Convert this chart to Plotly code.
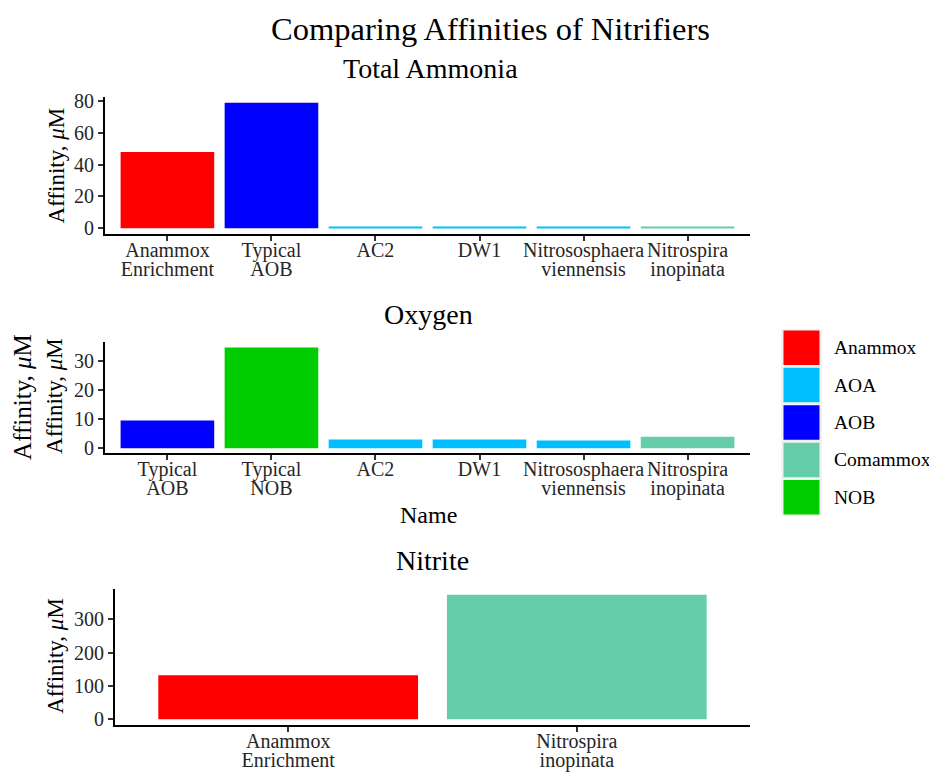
import plotly.graph_objects as go

# ---- data -------------------------------------------------------------
ammonia_names = ["Anammox<br>Enrichment", "Typical<br>AOB", "AC2", "DW1",
                 "Nitrososphaera<br>viennensis", "Nitrospira<br>inopinata"]
ammonia_groups = ["Anammox", "AOB", "AOA", "AOA", "AOA", "Comammox"]
ammonia_values = [48, 79, 0.4, 1.1, 1.1, 0.9]

oxygen_names = ["Typical<br>AOB", "Typical<br>NOB", "AC2", "DW1",
                "Nitrososphaera<br>viennensis", "Nitrospira<br>inopinata"]
oxygen_groups = ["AOB", "NOB", "AOA", "AOA", "AOA", "Comammox"]
oxygen_values = [9.5, 34.6, 3.0, 3.0, 2.7, 4.0]

nitrite_names = ["Anammox<br>Enrichment", "Nitrospira<br>inopinata"]
nitrite_groups = ["Anammox", "Comammox"]
nitrite_values = [132, 373]

legend_labels = ["Anammox", "AOA", "AOB", "Comammox", "NOB"]
group_colors = {"Anammox": "#FF0000", "AOA": "#00BFFF", "AOB": "#0000FF",
                "Comammox": "#66CDAA", "NOB": "#00CD00"}

# ---- page geometry ------------------------------------------------------
W, H = 929, 782
FONT = "Liberation Serif"
TICK_SIZE = 20


def px(x):
    return x / W


def py(y):
    return 1 - y / H


panels = [
    # (names, groups, values, x-left, x-right, y-top, y-bottom)
    (ammonia_names, ammonia_groups, ammonia_values, 105, 750, 92, 232),
    (oxygen_names, oxygen_groups, oxygen_values, 105, 750, 341.7, 454.3),
    (nitrite_names, nitrite_groups, nitrite_values, 115, 750, 591.7, 730.7),
]

fig = go.Figure()
layout_axes = {}
n_panels = len(panels)
for i, (names, groups, values, xl, xr, yt, yb) in enumerate(panels, start=1):
    xa = "x" if i == 1 else f"x{i}"
    ya = "y" if i == 1 else f"y{i}"
    k = n_panels + i
    fig.add_trace(go.Bar(
        x=names, y=values, xaxis=xa, yaxis=ya, width=0.9,
        marker=dict(color=[group_colors[g] for g in groups], line=dict(width=0)),
        showlegend=False, hoverinfo="x+y",
    ))
    # empty trace so the companion label axis gets drawn
    fig.add_trace(go.Scatter(x=[], y=[], xaxis=f"x{k}", yaxis=ya,
                             mode="markers", showlegend=False, hoverinfo="skip"))
    top = max(values)
    tickfont = dict(family=FONT, size=TICK_SIZE, color="#262626")
    common = dict(showline=True, linecolor="black", linewidth=2,
                  ticks="outside", ticklen=5, tickwidth=1.5, tickcolor="#333333",
                  showgrid=False, zeroline=False, tickfont=tickfont)
    first_lines = [n.split("<br>")[0] for n in names]
    second_lines = [n.split("<br>")[1] if "<br>" in n else "" for n in names]
    xrange = [-0.6, len(names) - 0.4]
    layout_axes["xaxis" if i == 1 else f"xaxis{i}"] = dict(
        common, domain=[px(xl), px(xr)], anchor=ya, type="category",
        categoryorder="array", categoryarray=names, range=xrange,
        tickmode="array", tickvals=names, ticktext=first_lines,
        ticklabelstandoff=-8)
    # companion axis carrying the second line of each category label,
    # set with tighter line spacing than a <br> break would give
    layout_axes[f"xaxis{k}"] = dict(
        domain=[px(xl), px(xr)], anchor=ya, overlaying=xa, range=xrange,
        type="linear", tickmode="array", tickvals=list(range(len(names))),
        ticktext=second_lines, showline=False, ticks="", showgrid=False,
        zeroline=False, tickfont=tickfont, ticklabelstandoff=21,
        fixedrange=True)
    layout_axes["yaxis" if i == 1 else f"yaxis{i}"] = dict(
        common, domain=[py(yb), py(yt)], anchor=xa,
        range=[-0.05 * top, 1.05 * top], ticklabelstandoff=0)

fig.update_layout(**layout_axes)


def label(text, x, y, size, angle=0):
    return dict(text=text, x=px(x), y=py(y), xref="paper", yref="paper",
                xanchor="center", yanchor="middle", showarrow=False,
                textangle=angle, font=dict(family=FONT, size=size, color="black"))


ylab = "Affinity, <i>μ</i>M"
annotations = [
    label("Comparing Affinities of Nitrifiers", 490, 23, 32.5),
    label("Total Ammonia", 430, 63, 28),
    label("Oxygen", 428, 313, 28),
    label("Nitrite", 432, 563, 28),
    label("Name", 428, 517, 24),
    label(ylab, 57, 162, 23, -90),
    label(ylab, 23, 397, 25, -90),
    label(ylab, 55, 396, 23, -90),
    label(ylab, 56, 660, 23, -90),
]

# legend drawn as large colour keys
shapes = []
key_top, key_h, key_x0, key_x1 = 328, 38, 781, 822
shapes.append(dict(type="rect", xref="paper", yref="paper",
                   x0=px(key_x0), x1=px(key_x1),
                   y0=py(key_top + key_h * len(legend_labels)), y1=py(key_top),
                   fillcolor="#F2F2F2", line=dict(width=0), layer="below"))
for k, name in enumerate(legend_labels):
    y0 = key_top + k * key_h
    shapes.append(dict(type="rect", xref="paper", yref="paper",
                       x0=px(key_x0 + 2.5), x1=px(key_x1 - 2.5),
                       y0=py(y0 + key_h - 1.5), y1=py(y0 + 1.5),
                       fillcolor=group_colors[name], line=dict(width=0)))
    annotations.append(dict(text=name, x=px(832), y=py(y0 + key_h / 2),
                            xref="paper", yref="paper", xanchor="left",
                            yanchor="middle", showarrow=False,
                            font=dict(family=FONT, size=19.5, color="black")))

fig.update_layout(
    width=W, height=H, margin=dict(l=0, r=0, t=0, b=0),
    paper_bgcolor="white", plot_bgcolor="white",
    annotations=annotations, shapes=shapes, showlegend=False,
)

fig.write_html("out.html")
